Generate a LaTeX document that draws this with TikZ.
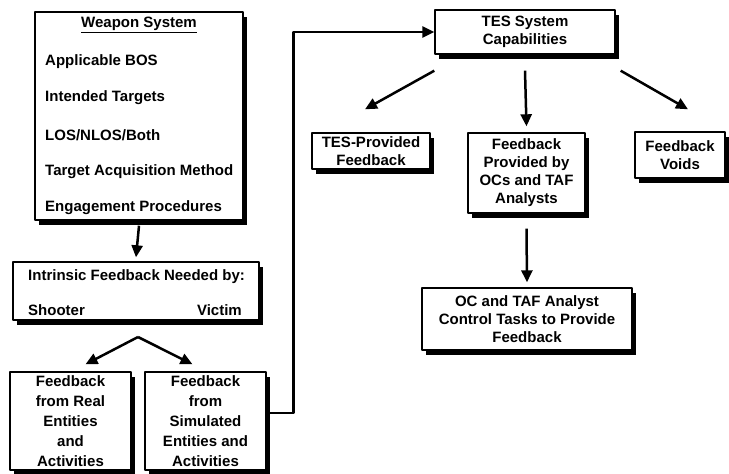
\documentclass[tikz,border=0pt]{standalone}
\usepackage{fontspec}
\setmainfont{Liberation Sans}
\usetikzlibrary{arrows.meta,shadows,calc}
\tikzset{
	box/.style={draw,line width=1.4pt,fill=white,inner sep=0pt,align=center,
		drop shadow={shadow xshift=4pt,shadow yshift=-4.5pt,fill=black,opacity=1}},
	txt/.style={inner sep=0pt,anchor=west},
	link/.style={->,line width=2.5pt}
}
\begin{document}
\begin{tikzpicture}[x=1pt,y=-1pt,>={Triangle[length=12pt,width=11pt]},line join=round,font=\fontsize{15}{18}\selectfont\bfseries]
		\useasboundingbox (0,0) rectangle (729,474);
		\node[box,minimum width=208pt,minimum height=208pt] (ws) at (139,116) {};
		\node[inner sep=0pt] (wstitle) at (139,25) {\underline{Weapon System}};
		\node[txt] (bos) at (45,62) {Applicable BOS};
		\node[txt] (targets) at (45,98) {Intended Targets};
		\node[txt] (los) at (45,135) {LOS/NLOS/Both};
		\node[txt] (acq) at (45,172) {Target Acquisition Method};
		\node[txt] (eng) at (45,208) {Engagement Procedures};
		\node[box,minimum width=246pt,minimum height=58pt] (intr) at (136,291) {};
		\node[txt] (needed) at (28,277) {Intrinsic Feedback Needed by:};
		\node[txt] (shooter) at (28,310) {Shooter};
		\node[inner sep=0pt,anchor=east] (victim) at (242,310) {Victim};
		\node[box,minimum width=121pt,minimum height=98pt,font=\fontsize{15}{20}\selectfont\bfseries] (real) at (70.5,421) {Feedback\\from Real\\Entities\\and\\Activities};
		\node[box,minimum width=121pt,minimum height=98pt,font=\fontsize{15}{20}\selectfont\bfseries] (sim) at (205.5,421) {Feedback\\from\\Simulated\\Entities and\\Activities};
		\node[box,minimum width=180pt,minimum height=44pt] (tes) at (525,32) {TES System\\Capabilities};
		\node[box,minimum width=118pt,minimum height=36pt] (tpf) at (371,151) {TES-Provided\\Feedback};
		\node[box,minimum width=117pt,minimum height=80pt] (fpo) at (526.5,173) {Feedback\\Provided by\\OCs and TAF\\Analysts};
		\node[box,minimum width=90pt,minimum height=46pt] (fv) at (680,155) {Feedback\\Voids};
		\node[box,minimum width=210pt,minimum height=62pt] (oct) at (527,319) {OC and TAF Analyst\\Control Tasks to Provide\\Feedback};
		\coordinate (apex) at (138,337);
		\draw[link] ([yshift=-5pt]ws.south) -- ([yshift=4pt]intr.north);
		\draw[link] (apex) -- ($(real.north)+(15,-7)$);
		\draw[link] (apex) -- ($(sim.north)+(-13,-7)$);
		\draw[link] ([yshift=8pt]sim.east) -- ++(27,0) |- (tes.west);
		\draw[link] ([yshift=-16pt]tes.south west) -- ([xshift=-6pt,yshift=23pt]tpf.north);
		\draw[link] ([yshift=-16pt]tes.south) -- ([yshift=6pt]fpo.north);
		\draw[link] ([xshift=5pt,yshift=-16pt]tes.south east) -- ([xshift=8pt,yshift=22pt]fv.north);
		\draw[link] ([yshift=-15pt]fpo.south) -- ([yshift=5pt]oct.north);
\end{tikzpicture}
\end{document}
